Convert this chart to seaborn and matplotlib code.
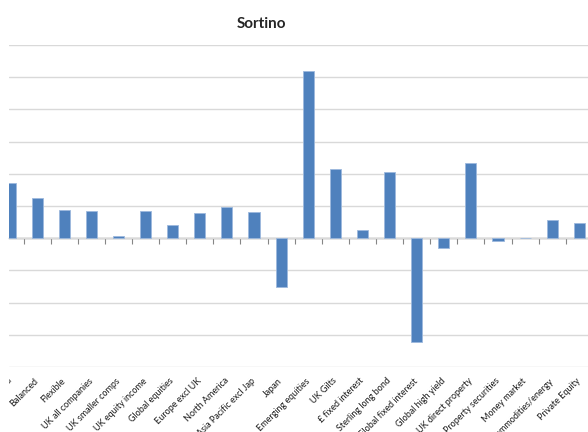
import numpy as np
import pandas as pd
import seaborn as sns
import matplotlib.pyplot as plt
from matplotlib.patches import Rectangle

# Sortino ratio per sector (first category is cut off at the left edge)
sectors = [
    "Cautious managed", "Balanced", "Flexible", "UK all companies", "UK smaller comps",
    "UK equity income", "Global equities", "Europe excl UK", "North America",
    "Asia Pacific excl Jap", "Japan", "Emerging equities", "UK Gilts",
    "£ fixed interest", "Sterling long bond", "Global fixed interest",
    "Global high yield", "UK direct property", "Property securities",
    "Money market", "Commodities/energy", "Private Equity",
]
sortino = [
    0.85, 0.62, 0.445, 0.43, 0.03, 0.415, 0.20, 0.39, 0.48, 0.40, -0.76,
    2.60, 1.07, 0.125, 1.03, -1.61, -0.145, 1.16, -0.04, 0.0, 0.275, 0.23,
]
grid_ticks = np.arange(-2.0, 3.01, 0.5)

df = pd.DataFrame({"Sector": sectors, "Sortino": sortino})

sns.set_style("white")
plt.rcParams["font.family"] = ["Lato", "DejaVu Sans"]

W, H = 588, 432
fig = plt.figure(figsize=(W / 100, H / 100), dpi=100)
ax = fig.add_axes([9 / W, 65 / H, (W - 9) / W, 322 / H])

sns.barplot(data=df, x="Sector", y="Sortino", color="#4F81BD", saturation=1,
            width=0.41, edgecolor="#9DB9DD", linewidth=0.6, ax=ax, zorder=3)

ax.set_xlim(-0.04, 21.32)
ax.set_ylim(-2.0, 3.0)
ax.set_yticks(grid_ticks)
ax.yaxis.grid(True, color="#D9D9D9", linewidth=1.0, zorder=0)
ax.set_axisbelow(True)
ax.tick_params(axis="y", left=False, labelleft=False)
for s in ax.spines.values():
    s.set_visible(False)
ax.set_xlabel("")
ax.set_ylabel("")

# category labels sit under the plot area
ax.set_xticks(range(len(sectors)))
ax.set_xticklabels(sectors, rotation=45, ha="right", va="center",
                   rotation_mode="anchor", fontsize=6.5, color="#1a1a1a")
ax.tick_params(axis="x", length=0, pad=9)
clip = Rectangle((9 / W, 0), 1, 1, transform=fig.transFigure)
for lbl in ax.get_xticklabels():
    lbl.set_clip_on(True)
    lbl.set_clip_path(clip)

# horizontal axis line at zero with tick marks between categories
sec = ax.secondary_xaxis(0.4)
sec.set_xticks(np.arange(len(sectors)) + 0.5)
sec.tick_params(axis="x", length=4, width=0.8, color="#868686",
                direction="out", labelbottom=False)
sec.spines["bottom"].set_color("#868686")
sec.spines["bottom"].set_linewidth(1.0)

fig.text(261 / W, 1 - 24 / H, "Sortino", ha="center", va="center",
         fontsize=11, fontweight="bold")

fig.savefig("out.png", dpi=100)
